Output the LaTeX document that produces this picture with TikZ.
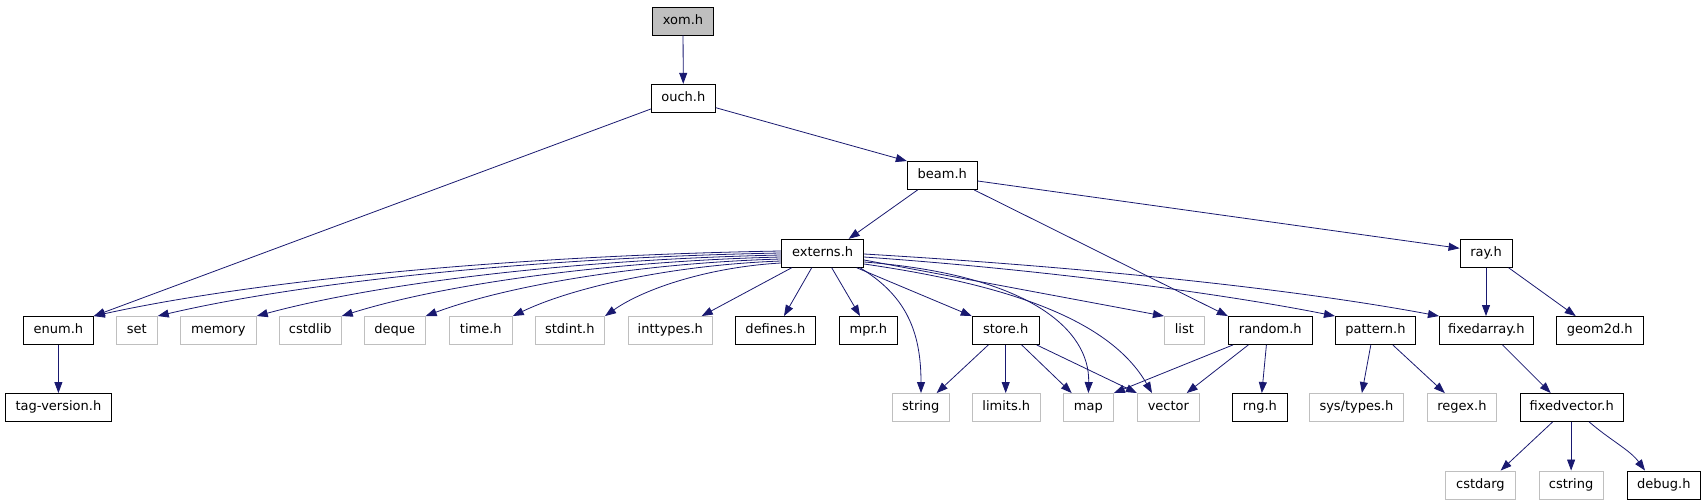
\documentclass[tikz,border=0pt]{standalone}
\usepackage{fontspec}
\setmainfont{DejaVu Sans}
\usetikzlibrary{arrows.meta,calc}
\definecolor{edgeblue}{HTML}{191970}
\definecolor{greyline}{HTML}{BFBFBF}
\begin{document}
\begin{tikzpicture}[x=1bp,y=-1bp,
  hbox/.style={draw=black, line width=0.9bp, minimum height=28bp, inner sep=0pt,
    font=\fontsize{13bp}{15bp}\selectfont, text height=9.5bp, text depth=2.6bp},
  sysbox/.style={hbox, draw=greyline},
  rootbox/.style={hbox, fill=greyline},
  edge/.style={draw=edgeblue, line width=0.8bp, -{Triangle[length=11bp,width=8bp]}},
]
\useasboundingbox (0,0) rectangle (1704,504);
% level 0-3
\node[rootbox, minimum width=61bp] (xom) at (683,21) {xom.h};
\node[hbox, minimum width=64bp] (ouch) at (683.3,98.3) {ouch.h};
\node[hbox, minimum width=70bp] (beam) at (942.3,175.5) {beam.h};
\node[hbox, minimum width=82bp] (externs) at (822.6,253.3) {externs.h};
\node[hbox, minimum width=52bp] (ray) at (1486,253.3) {ray.h};
% level 4
\node[hbox, minimum width=70bp] (enum) at (58.4,330.5) {enum.h};
\node[sysbox, minimum width=41bp] (set) at (136.8,330.5) {set};
\node[sysbox, minimum width=76bp] (memory) at (218.3,330.5) {memory};
\node[sysbox, minimum width=62bp] (cstdlib) at (310.3,330.5) {cstdlib};
\node[sysbox, minimum width=61bp] (deque) at (394.7,330.5) {deque};
\node[sysbox, minimum width=63bp] (timeh) at (480.8,330.5) {time.h};
\node[sysbox, minimum width=69.5bp] (stdint) at (569.8,330.5) {stdint.h};
\node[sysbox, minimum width=84bp] (inttypes) at (670.3,330.5) {inttypes.h};
\node[hbox, minimum width=80bp] (defines) at (775.4,330.5) {defines.h};
\node[hbox, minimum width=58bp] (mpr) at (868.3,330.5) {mpr.h};
\node[hbox, minimum width=67bp] (store) at (1005.7,330.5) {store.h};
\node[sysbox, minimum width=40bp] (list) at (1184.4,330.5) {list};
\node[hbox, minimum width=84bp] (random) at (1270.3,330.5) {random.h};
\node[hbox, minimum width=80bp] (pattern) at (1375.4,330.5) {pattern.h};
\node[hbox, minimum width=94bp] (fixedarray) at (1486.4,330.5) {fixedarray.h};
\node[hbox, minimum width=87bp] (geom2d) at (1599.8,330.5) {geom2d.h};
% level 5
\node[hbox, minimum width=106bp] (tagversion) at (58.4,407.5) {tag-version.h};
\node[sysbox, minimum width=57bp] (string) at (920.8,407.5) {string};
\node[sysbox, minimum width=68bp] (limits) at (1006.3,407.5) {limits.h};
\node[sysbox, minimum width=50bp] (map) at (1088.4,407.5) {map};
\node[sysbox, minimum width=62bp] (vector) at (1168.4,407.5) {vector};
\node[hbox, minimum width=55bp] (rng) at (1259.9,407.5) {rng.h};
\node[sysbox, minimum width=94bp] (systypes) at (1356.4,407.5) {sys/types.h};
\node[sysbox, minimum width=69bp] (regex) at (1461.9,407.5) {regex.h};
\node[hbox, minimum width=103bp] (fixedvector) at (1571.7,407.5) {fixedvector.h};
% level 6
\node[sysbox, minimum width=70bp] (cstdarg) at (1480.4,485) {cstdarg};
\node[sysbox, minimum width=64bp] (cstring) at (1571.1,485) {cstring};
\node[hbox, minimum width=73bp] (debug) at (1663.8,485) {debug.h};

% edges
\draw[edge] (xom) -- (ouch);
\draw[edge] (ouch.west |- 0,109) -- (enum.north east);
\draw[edge] (ouch.east |- 0,107.7) -- (beam.north west);
\draw[edge] (beam.south -| 917.6,0) -- (externs.north -| 848.7,0);
\draw[edge] (beam.south -| 974.2,0) -- (random.north west);
\draw[edge] (beam.east |- 0,181) -- (ray.west |- 0,248.3);

\draw[edge] (externs.west |- 0,251) .. controls (506.6,255.7) and (252.2,281.2) .. (enum.north east);
\draw[edge] (externs.west |- 0,253) .. controls (532.3,257.6) and (301.7,282.3) .. (set.north east);
\draw[edge] (externs.west |- 0,255) .. controls (571.6,259.4) and (377.2,283.4) .. (memory.north east);
\draw[edge] (externs.west |- 0,257) .. controls (605.5,261.3) and (442.6,284.4) .. (cstdlib.north east);
\draw[edge] (externs.west |- 0,259) .. controls (639.1,263.1) and (507.1,285.6) .. (deque.north east);
\draw[edge] (externs.west |- 0,261) .. controls (674,265) and (574.3,286.6) .. (timeh.north east);
\draw[edge] (externs.west |- 0,263) .. controls (710.8,266.9) and (645.3,287.8) .. (stdint.north east);
\draw[edge] (externs.south -| 791.7,0) -- (inttypes.north -| 701.7,0);
\draw[edge] (externs.south -| 811.7,0) -- (defines.north -| 784,0);
\draw[edge] (externs.south -| 831.7,0) -- (mpr.north -| 860,0);
\draw[edge] (externs.south -| 856.7,0) -- (store.north west);
\draw[edge] (externs.south -| 860,0) .. controls (905,295) and (921,330) .. (string.north -| 921,0);
\draw[edge] (externs.east |- 0,262) .. controls (1030,275) and (1090,330) .. (map.north);
\draw[edge] (externs.east |- 0,264) .. controls (1010,285) and (1110,320) .. (vector.north -| 1152,0);
\draw[edge] (externs.east |- 0,260) -- (list.north west);
\draw[edge] (externs.east |- 0,257) .. controls (1050,270) and (1230,295) .. (pattern.north west);
\draw[edge] (externs.east |- 0,254) .. controls (1100,268) and (1300,290) .. (fixedarray.north west);

\draw[edge] (store.south -| 988.3,0) -- (string.north -| 936.7,0);
\draw[edge] (store.south -| 1005.7,0) -- (limits.north -| 1005.7,0);
\draw[edge] (store.south -| 1021.7,0) -- (map.north -| 1071.7,0);
\draw[edge] (store.south -| 1036.7,0) -- (vector.north west);

\draw[edge] (random.south -| 1232.9,0) -- (map.north east);
\draw[edge] (random.south -| 1248.3,0) -- (vector.north -| 1186.7,0);
\draw[edge] (random.south -| 1266.4,0) -- (rng.north -| 1261.8,0);

\draw[edge] (pattern.south -| 1370.8,0) -- (systypes.north -| 1361.9,0);
\draw[edge] (pattern.south -| 1392.8,0) -- (regex.north -| 1444.8,0);

\draw[edge] (ray.south) -- (ray.south |- fixedarray.north);
\draw[edge] (ray.south -| 1508.6,0) -- (geom2d.north -| 1575.7,0);
\draw[edge] (fixedarray.south -| 1502.5,0) -- (fixedvector.north -| 1550.7,0);

\draw[edge] (fixedvector.south -| 1552.6,0) -- (cstdarg.north -| 1500.6,0);
\draw[edge] (fixedvector.south -| 1571.1,0) -- (cstring.north);
\draw[edge] (fixedvector.south -| 1589.2,0) .. controls (1610,440) and (1630,450) .. (debug.north -| 1645,0);

\draw[edge] (enum) -- (tagversion);
\end{tikzpicture}
\end{document}
